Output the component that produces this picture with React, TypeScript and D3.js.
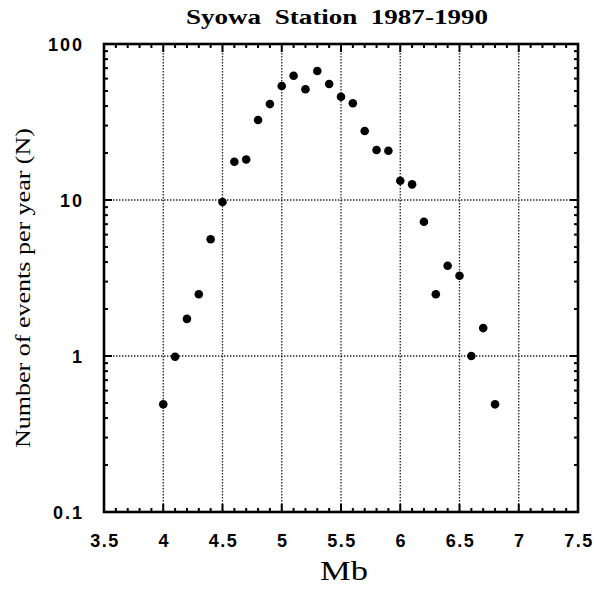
import React from 'react';
import * as d3 from 'd3';

const magnitudes = [4.0, 4.1, 4.2, 4.3, 4.4, 4.5, 4.6, 4.7, 4.8, 4.9, 5.0, 5.1, 5.2, 5.3, 5.4, 5.5, 5.6, 5.7, 5.8, 5.9, 6.0, 6.1, 6.2, 6.3, 6.4, 6.5, 6.6, 6.7, 6.8];
const eventsPerYear = [0.49, 0.99, 1.73, 2.49, 5.6, 9.7, 17.6, 18.2, 32.6, 41.2, 53.8, 62.6, 51.3, 67.1, 55.4, 45.9, 41.7, 27.7, 20.9, 20.7, 13.3, 12.6, 7.26, 2.49, 3.79, 3.27, 1.0, 1.51, 0.49];
const xTickValues = [3.5, 4, 4.5, 5, 5.5, 6, 6.5, 7, 7.5];
const yTickValues = [0.1, 1, 10, 100];
const titleText = 'Syowa  Station  1987-1990';
const xLabel = 'Mb';
const yLabel = 'Number of events per year (N)';

const W = 594;
const H = 594;
const margin = { top: 44, right: 16, bottom: 82, left: 104 };

const sans = "'Liberation Sans', Arial, sans-serif";
const serif = "'Liberation Serif', 'Times New Roman', serif";

const App: React.FC = () => {
  const x = d3.scaleLinear().domain([3.5, 7.5]).range([margin.left, W - margin.right]);
  const y = d3.scaleLog().domain([0.1, 100]).range([H - margin.bottom, margin.top]);
  const [x0, x1] = x.range();
  const [yb, yt] = y.range();

  // minor ticks every 0.1 on x, 2..9 per decade on y
  const xMinor = d3.range(35, 76).map(v => v / 10).filter(v => !xTickValues.some(t => Math.abs(t - v) < 1e-6));
  const yMinor: number[] = [];
  [0.1, 1, 10].forEach(dec => { for (let k = 2; k <= 9; k++) yMinor.push(dec * k); });

  const major = 8;
  const minor = 4;
  const tickStroke = 2;

  return (
    <svg width={W} height={H} style={{ position: 'absolute', left: 0, top: 0, background: '#fff' }}>
      <rect width={W} height={H} fill="#fff" />
      {/* grid */}
      {xTickValues.slice(1, -1).map(v => (
        <line key={'gx' + v} x1={x(v)} x2={x(v)} y1={yt} y2={yb} stroke="#222" strokeWidth={1.3} strokeDasharray="1.4,1.6" />
      ))}
      {yTickValues.slice(1, -1).map(v => (
        <line key={'gy' + v} x1={x0} x2={x1} y1={y(v)} y2={y(v)} stroke="#222" strokeWidth={1.3} strokeDasharray="1.4,1.6" />
      ))}
      {/* ticks */}
      {xTickValues.map(v => (
        <g key={'xt' + v}>
          <line x1={x(v)} x2={x(v)} y1={yb} y2={yb - major} stroke="#000" strokeWidth={tickStroke} />
          <line x1={x(v)} x2={x(v)} y1={yt} y2={yt + major} stroke="#000" strokeWidth={tickStroke} />
        </g>
      ))}
      {xMinor.map(v => (
        <g key={'xm' + v}>
          <line x1={x(v)} x2={x(v)} y1={yb} y2={yb - minor} stroke="#000" strokeWidth={tickStroke} />
          <line x1={x(v)} x2={x(v)} y1={yt} y2={yt + minor} stroke="#000" strokeWidth={tickStroke} />
        </g>
      ))}
      {yTickValues.map(v => (
        <g key={'yt' + v}>
          <line x1={x0} x2={x0 + major} y1={y(v)} y2={y(v)} stroke="#000" strokeWidth={tickStroke} />
          <line x1={x1} x2={x1 - major} y1={y(v)} y2={y(v)} stroke="#000" strokeWidth={tickStroke} />
        </g>
      ))}
      {yMinor.map(v => (
        <g key={'ym' + v}>
          <line x1={x0} x2={x0 + minor} y1={y(v)} y2={y(v)} stroke="#000" strokeWidth={tickStroke} />
          <line x1={x1} x2={x1 - minor} y1={y(v)} y2={y(v)} stroke="#000" strokeWidth={tickStroke} />
        </g>
      ))}
      {/* frame */}
      <rect x={x0} y={yt} width={x1 - x0} height={yb - yt} fill="none" stroke="#000" strokeWidth={2.6} />
      {/* points */}
      {magnitudes.map((m, i) => (
        <circle key={'p' + i} cx={x(m)} cy={y(eventsPerYear[i])} r={4.3} fill="#000" />
      ))}
      {/* tick labels */}
      {xTickValues.map(v => (
        <text key={'xl' + v} x={x(v) + 1} y={yb + 35} textAnchor="middle" fontFamily={sans} fontWeight="bold" fontSize={18} letterSpacing={1.5}>{v}</text>
      ))}
      {yTickValues.map(v => (
        <text key={'yl' + v} x={x0 - 20} y={y(v) + 7} textAnchor="end" fontFamily={sans} fontWeight="bold" fontSize={18} letterSpacing={2}>{v}</text>
      ))}
      {/* titles */}
      <text x={(x0 + x1) / 2 - 4} y={24} textAnchor="middle" fontFamily={serif} fontWeight="bold" fontSize={21} textLength={302} lengthAdjust="spacingAndGlyphs" xmlSpace="preserve">{titleText}</text>
      <text x={344} y={580} textAnchor="middle" fontFamily={serif} fontSize={27} textLength={48} lengthAdjust="spacingAndGlyphs">{xLabel}</text>
      <text transform={`translate(30, 288) rotate(-90)`} textAnchor="middle" fontFamily={serif} fontSize={20} textLength={320} lengthAdjust="spacingAndGlyphs">{yLabel}</text>
    </svg>
  );
};

export default App;
